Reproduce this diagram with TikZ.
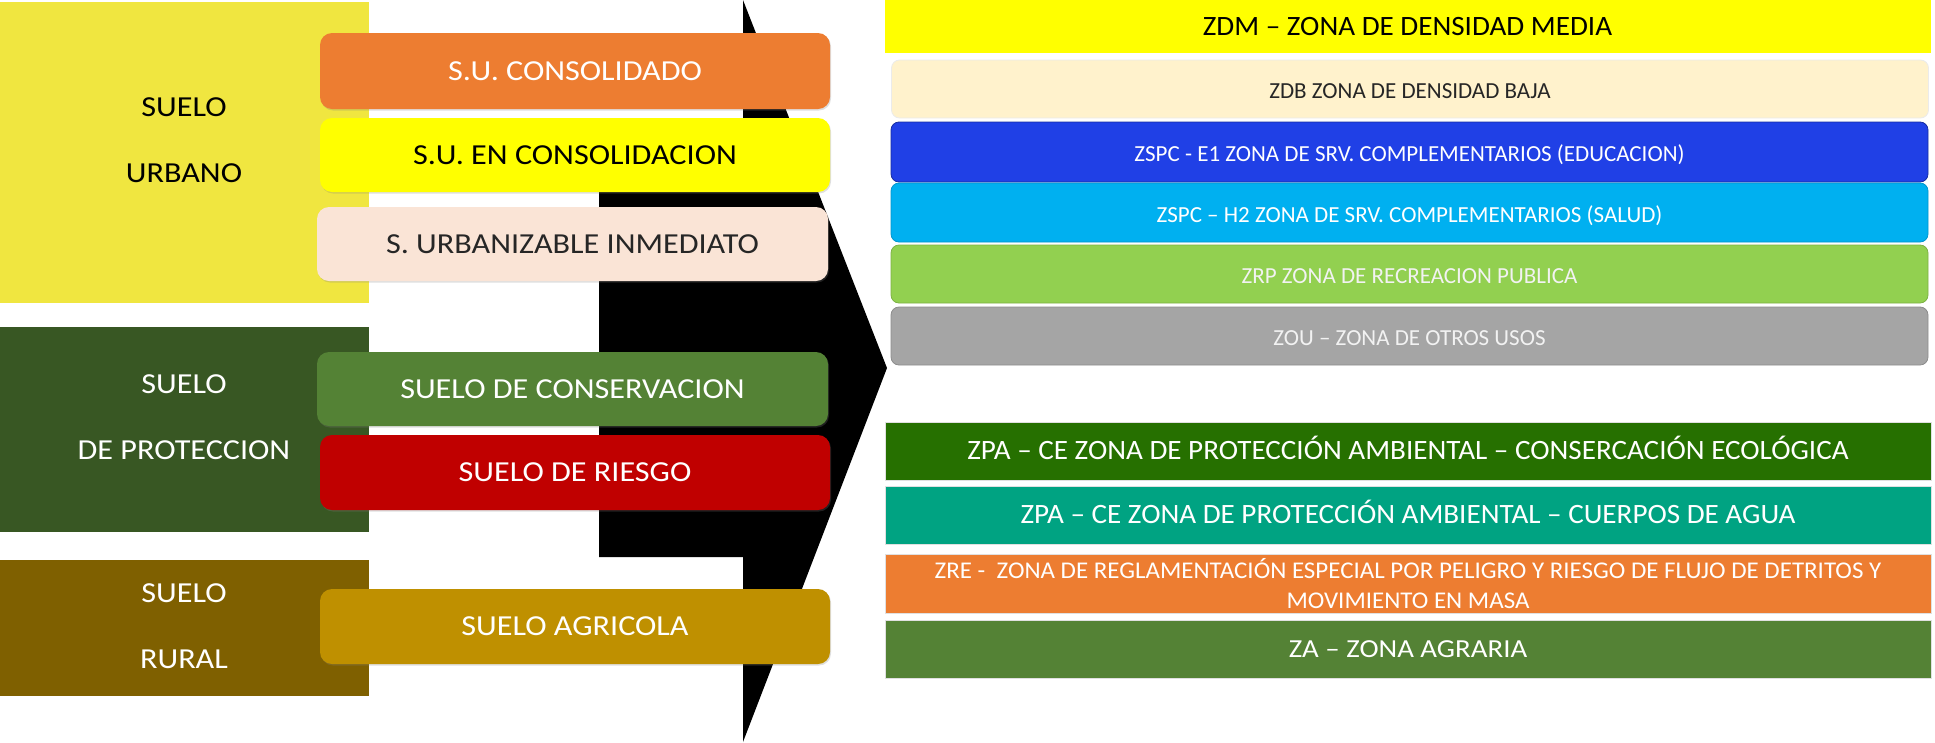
\documentclass[tikz,border=0pt]{standalone}
\usepackage{fontspec}
\setmainfont{Carlito}
\newfontfamily\leftfont[FakeStretch=1.11]{Carlito}
\newfontfamily\rfont[FakeStretch=1.04]{Carlito}
\usetikzlibrary{shadows}
\definecolor{urbY}{RGB}{240,230,64}
\definecolor{protG}{RGB}{56,87,35}
\definecolor{ruralB}{RGB}{127,96,0}
\definecolor{orangeC}{RGB}{237,125,49}
\definecolor{yelC}{RGB}{255,255,0}
\definecolor{peachC}{RGB}{250,228,214}
\definecolor{consG}{RGB}{84,130,53}
\definecolor{redC}{RGB}{192,0,0}
\definecolor{goldC}{RGB}{191,144,0}
\definecolor{zdbC}{RGB}{255,242,204}
\definecolor{blueC}{RGB}{32,64,230}
\definecolor{cyanC}{RGB}{0,176,240}
\definecolor{zrpC}{RGB}{146,208,80}
\definecolor{zouC}{RGB}{165,165,165}
\definecolor{zpaC}{RGB}{38,112,0}
\definecolor{tealC}{RGB}{0,163,130}
\definecolor{darkT}{RGB}{38,38,38}
\begin{document}
\begin{tikzpicture}[x=1pt,y=-1pt,
  catbox/.style={rectangle, inner sep=0pt, draw=none, minimum width=369pt},
  cattext/.style={align=center, inner sep=0pt, font={\leftfont\fontsize{29}{66}\selectfont}},
  subbox/.style={rectangle, rounded corners=12pt, inner sep=0pt, minimum width=510pt,
    minimum height=75pt, font={\leftfont\fontsize{29}{35}\selectfont}, text height=18.3pt, text depth=0pt,
    drop shadow={shadow xshift=1pt, shadow yshift=-1.5pt, opacity=0.25}},
  zonebase/.style={rectangle, inner sep=0pt, minimum width=1046pt, minimum height=58pt,
    draw=black!12, line width=0.8pt},
  zonesq/.style={zonebase, text height=17.6pt, text depth=0pt, font={\rfont\fontsize{28}{34}\selectfont}},
  zonernd/.style={rectangle, rounded corners=8pt, inner sep=0pt, minimum width=1037pt,
    minimum height=58pt, line width=0.8pt, text height=19.5pt, text depth=0pt,
    font=\fontsize{23}{28}\selectfont}
]
\useasboundingbox (0,0) rectangle (1935,742);

% big arrow
\fill[black] (743,0) -- (887,368) -- (743,742) -- (743,557) -- (599,557) -- (599,160) -- (743,160) -- cycle;

% left categories
\node[catbox, fill=urbY, minimum height=301pt] (urb) at (184.5,152.5) {};
\node[cattext, text=black] (urbt) at (184,140) {SUELO\\URBANO};
\node[catbox, fill=protG, minimum height=205pt] (prot) at (184.5,429.5) {};
\node[cattext, text=white] (prott) at (184,417.5) {SUELO\\DE PROTECCION};
\node[catbox, fill=ruralB, minimum height=136pt] (rur) at (184.5,628) {};
\node[cattext, text=white] (rurt) at (184,626) {SUELO\\RURAL};

% sub classes
\node[subbox, fill=orangeC, text=white, minimum height=76pt] (cons) at (575,71) {S.U. CONSOLIDADO};
\node[subbox, fill=yelC, text=black, minimum height=74pt] (encons) at (575,155) {S.U. EN CONSOLIDACION};
\node[subbox, fill=peachC, text=darkT, minimum height=74pt, minimum width=511pt] (urbz) at (572.5,244) {S. URBANIZABLE INMEDIATO};
\node[subbox, fill=consG, text=white, minimum height=74pt, minimum width=511pt] (conserv) at (572.5,389) {SUELO DE CONSERVACION};
\node[subbox, fill=redC, text=white] (riesgo) at (575,472.5) {SUELO DE RIESGO};
\node[subbox, fill=goldC, text=white] (agri) at (575,626.5) {SUELO AGRICOLA};

% right zones
\node[zonesq, fill=yelC, draw=none, minimum height=53pt, text=black] (zdm) at (1407.5,26.5) {ZDM – ZONA DE DENSIDAD MEDIA};
\node[zonernd, fill=zdbC, draw=black!8, text=darkT] (zdb) at (1410,89) {ZDB ZONA DE DENSIDAD BAJA};
\node[zonernd, fill=blueC, draw=blueC!70!black, text=white, minimum height=60pt] (e1) at (1409.5,152) {ZSPC - E1 ZONA DE SRV. COMPLEMENTARIOS (EDUCACION)};
\node[zonernd, fill=cyanC, draw=cyanC!85!black, text=white, minimum height=59pt] (h2) at (1409.5,212.5) {ZSPC – H2 ZONA DE SRV. COMPLEMENTARIOS (SALUD)};
\node[zonernd, fill=zrpC, draw=zrpC!85!black, text=black!5] (zrp) at (1409.5,274) {ZRP ZONA DE RECREACION PUBLICA};
\node[zonernd, fill=zouC, draw=zouC!85!black, text=black!5] (zou) at (1409.5,336) {ZOU – ZONA DE OTROS USOS};

\node[zonesq, fill=zpaC, text=white] (zpa) at (1408,451) {ZPA – CE ZONA DE PROTECCIÓN AMBIENTAL – CONSERCACIÓN ECOLÓGICA};
\node[zonesq, fill=tealC, text=white] (agua) at (1408,515) {ZPA – CE ZONA DE PROTECCIÓN AMBIENTAL – CUERPOS DE AGUA};
\node[zonebase, fill=orangeC, text=white, minimum height=59pt, align=center, font={\rfont\fontsize{24}{30}\selectfont}] (zre) at (1408,583.5) {ZRE -\ \ ZONA DE REGLAMENTACIÓN ESPECIAL POR PELIGRO Y RIESGO DE FLUJO DE DETRITOS Y\\MOVIMIENTO EN MASA};
\node[zonesq, fill=consG, text=white, text height=16.4pt, font={\leftfont\fontsize{26}{32}\selectfont}] (za) at (1408,649) {ZA – ZONA AGRARIA};
\end{tikzpicture}
\end{document}
